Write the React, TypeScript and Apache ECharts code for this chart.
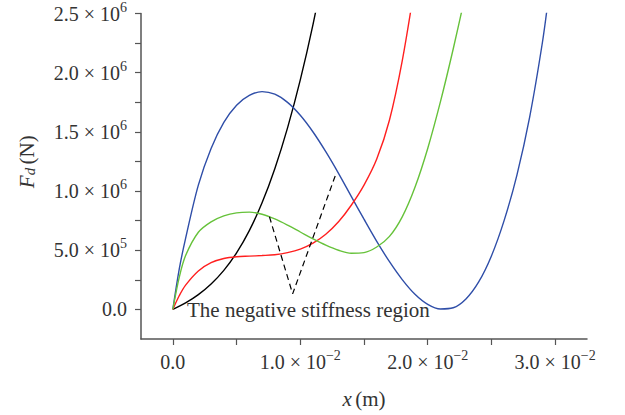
import React, { useEffect, useRef } from "react";
import * as echarts from "echarts";

// ---- data (x in m, F_d in N) ----
const xBlack = [0, 0.001, 0.002, 0.003, 0.004, 0.005, 0.006, 0.007, 0.008, 0.009, 0.01, 0.011, 0.012];
const fBlack = [0, 55000, 125000, 215000, 330000, 478000, 666000, 901000, 1189000, 1534000, 1939000, 2409000, 2949000];

const xBlue = [0, 0.0005, 0.001, 0.002, 0.003, 0.004, 0.005, 0.006, 0.007, 0.008, 0.009, 0.01, 0.011, 0.012, 0.013, 0.014, 0.015, 0.016, 0.017, 0.018, 0.019, 0.02, 0.021, 0.022, 0.023, 0.024, 0.025, 0.026, 0.027, 0.028, 0.029, 0.0295];
const fBlue = [0, 340000, 600000, 1050000, 1360000, 1580000, 1725000, 1808000, 1840000, 1818000, 1749000, 1640000, 1499000, 1333000, 1150000, 955000, 762000, 575000, 403000, 252000, 128000, 43000, 4000, 14000, 88000, 232000, 452000, 752000, 1135000, 1625000, 2255000, 2655000];

const xRed = [0, 0.0005, 0.001, 0.002, 0.003, 0.004, 0.005, 0.006, 0.007, 0.008, 0.009, 0.01, 0.011, 0.012, 0.013, 0.014, 0.015, 0.016, 0.017, 0.018, 0.019];
const fRed = [0, 115000, 205000, 325000, 395000, 430000, 445000, 450000, 455000, 462000, 480000, 510000, 560000, 635000, 740000, 880000, 1050000, 1270000, 1600000, 2100000, 2750000];

const xGreen = [0, 0.0005, 0.001, 0.002, 0.003, 0.004, 0.005, 0.006, 0.007, 0.008, 0.009, 0.01, 0.011, 0.012, 0.013, 0.014, 0.015, 0.016, 0.017, 0.018, 0.019, 0.02, 0.021, 0.022, 0.023];
const fGreen = [0, 270000, 455000, 652000, 740000, 790000, 816000, 822000, 804000, 764000, 712000, 654000, 596000, 543000, 500000, 475000, 480000, 527000, 617000, 782000, 1032000, 1360000, 1755000, 2200000, 2680000];

// dashed annotation of the negative stiffness region
const xDash = [0.00758, 0.0094, 0.01275];
const fDash = [783000, 131000, 1131000];

const xLabelValues = [0, 0.01, 0.02, 0.03];
const xTickValues = [0, 0.005, 0.01, 0.015, 0.02, 0.025, 0.03];
const yLabelValues = [0, 500000, 1000000, 1500000, 2000000, 2500000];
const yTickValues = [0, 250000, 500000, 750000, 1000000, 1250000, 1500000, 1750000, 2000000, 2250000, 2500000];

const annotation = "The negative stiffness region";

const SERIF = "'Liberation Serif', 'DejaVu Serif', serif";
const TXT = "#333333";
const AX = "#555555";

const zip = (xs: number[], ys: number[]) => xs.map((x, i) => [x, ys[i]]);

function sci(v: number): string {
  if (v === 0) return "{m|0.0}";
  const e = Math.floor(Math.log10(Math.abs(v)) + 1e-9);
  const m = (v / Math.pow(10, e)).toFixed(1);
  const es = e < 0 ? "\u2212" + -e : String(e);
  return `{m|${m}}{x|×}{m|10}{s|${es}}`;
}

const rich = {
  m: { fontSize: 20, fontFamily: SERIF, color: TXT, lineHeight: 27 },
  x: { fontSize: 20, fontFamily: SERIF, color: TXT, lineHeight: 27, padding: [0, 5, 0, 5] },
  s: { fontSize: 14, fontFamily: SERIF, color: TXT, lineHeight: 10, verticalAlign: "top" as const },
};

export default function App() {
  const ref = useRef<HTMLDivElement>(null);
  useEffect(() => {
    if (!ref.current) return;
    const chart = echarts.init(ref.current, undefined, { renderer: "svg" });
    const line = (name: string, data: number[][], color: string) => ({
      name,
      type: "line",
      data,
      smooth: 0.33,
      showSymbol: false,
      symbol: "none",
      clip: true,
      lineStyle: { color, width: 1.4 },
      z: 3,
    });
    chart.setOption({
      animation: false,
      backgroundColor: "#ffffff",
      grid: { left: 141, right: 38, top: 10, bottom: 76, containLabel: false },
      xAxis: {
        type: "value",
        min: -0.0025,
        max: 0.0325,
        name: "{i|x} {n|(m)}",
        nameLocation: "middle",
        nameGap: 49,
        nameTextStyle: {
          rich: {
            i: { fontSize: 21, fontFamily: SERIF, fontStyle: "italic", color: TXT },
            n: { fontSize: 21, fontFamily: SERIF, color: TXT },
          },
        },
        splitLine: { show: false },
        axisLine: { onZero: false, lineStyle: { color: AX, width: 1.5 } },
        axisTick: { show: true, inside: false, length: 6, customValues: xTickValues, lineStyle: { color: AX, width: 1.2 } },
        axisLabel: { customValues: xLabelValues, margin: 9, formatter: (v: number) => sci(v), rich },
      },
      yAxis: {
        type: "value",
        min: -250000,
        max: 2500000,
        name: "{i|F}{d|d} {n|(N)}",
        nameLocation: "middle",
        nameGap: 104,
        nameRotate: 90,
        nameTextStyle: {
          padding: [0, 0, 0, 29],
          rich: {
            i: { fontSize: 21, fontFamily: SERIF, fontStyle: "italic", color: TXT },
            d: { fontSize: 15, fontFamily: SERIF, fontStyle: "italic", color: TXT, verticalAlign: "bottom", lineHeight: 12 },
            n: { fontSize: 21, fontFamily: SERIF, color: TXT },
          },
        },
        splitLine: { show: false },
        axisLine: { onZero: false, lineStyle: { color: AX, width: 1.5 } },
        axisTick: { show: true, inside: false, length: 6, customValues: yTickValues, lineStyle: { color: AX, width: 1.2 } },
        axisLabel: { customValues: yLabelValues, margin: 14, formatter: (v: number) => sci(v), rich },
      },
      series: [
        line("black", zip(xBlack, fBlack), "#000000"),
        line("blue", zip(xBlue, fBlue), "#2f4ea8"),
        line("red", zip(xRed, fRed), "#ff1f1f"),
        line("green", zip(xGreen, fGreen), "#66c23a"),
        {
          name: "negative stiffness",
          type: "line",
          data: zip(xDash, fDash),
          smooth: false,
          showSymbol: false,
          symbol: "none",
          lineStyle: { color: "#000000", width: 1.2, type: [6, 4] },
          z: 4,
        },
      ],
      graphic: [
        {
          type: "text",
          left: 187,
          top: 299,
          style: { text: annotation, fontSize: 21, fontFamily: SERIF, fill: TXT },
          z: 10,
        },
      ],
    });
    return () => chart.dispose();
  }, []);
  return (
    <div
      ref={ref}
      style={{ position: "absolute", left: 0, top: 0, width: 625, height: 415, background: "#fff" }}
    />
  );
}
